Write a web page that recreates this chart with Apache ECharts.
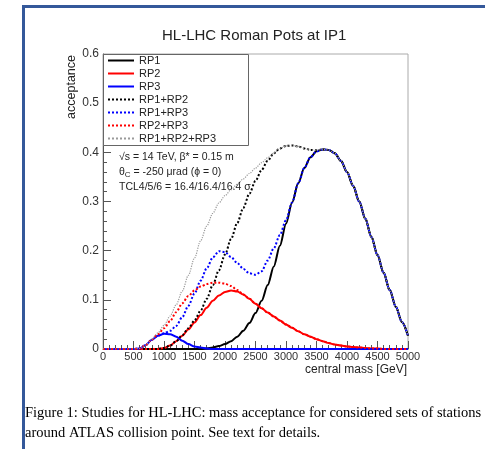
<!DOCTYPE html>
<html>
<head>
<meta charset="utf-8">
<script src="https://cdn.jsdelivr.net/npm/echarts@6/dist/echarts.min.js"></script>
<style>html,body{margin:0;padding:0;background:#fff;}#c{width:485px;height:449px;}</style>
</head>
<body>
<div id="c"></div>
<script>
// central mass [GeV]
var mass = [0,100,200,300,400,500,600,700,800,900,1000,1100,1200,1300,1400,1500,1600,1700,1800,1900,2000,2100,2200,2300,2400,2500,2600,2700,2800,2900,3000,3100,3200,3300,3400,3500,3600,3700,3800,3900,4000,4100,4200,4300,4400,4500,4600,4700,4800,4900,5000];

var rp1 = [0,0,0,0,0,0,0,0,0,0,0,0,0,0,0,0,0,0.001,0.003,0.006,0.01,0.016,0.025,0.037,0.053,0.073,0.098,0.13,0.168,0.21,0.255,0.298,0.337,0.368,0.39,0.402,0.406,0.405,0.398,0.383,0.36,0.332,0.3,0.265,0.228,0.191,0.155,0.12,0.086,0.055,0.027];
var rp2 = [0,0,0,0,0,0,0,0,0,0,0.002,0.007,0.016,0.027,0.04,0.054,0.069,0.084,0.098,0.109,0.116,0.119,0.117,0.111,0.102,0.092,0.083,0.074,0.066,0.058,0.05,0.043,0.036,0.03,0.025,0.02,0.016,0.012,0.009,0.007,0.005,0.004,0.003,0.002,0.001,0.001,0,0,0,0,0];
var rp3 = [0,0,0,0,0,0,0.001,0.008,0.019,0.027,0.031,0.03,0.025,0.017,0.01,0.005,0.003,0.001,0,0,0,0,0,0,0,0,0,0,0,0,0,0,0,0,0,0,0,0,0,0,0,0,0,0,0,0,0,0,0,0,0];
var rp12 = [0,0,0,0,0,0,0,0,0,0,0.002,0.007,0.016,0.028,0.042,0.058,0.078,0.102,0.13,0.16,0.192,0.224,0.256,0.287,0.316,0.342,0.364,0.383,0.398,0.408,0.413,0.414,0.412,0.408,0.405,0.404,0.406,0.405,0.398,0.383,0.36,0.332,0.3,0.265,0.228,0.191,0.155,0.12,0.086,0.055,0.027];
var rp13 = [0,0,0,0,0,0,0.001,0.008,0.019,0.027,0.032,0.037,0.047,0.065,0.088,0.113,0.139,0.164,0.186,0.199,0.197,0.187,0.175,0.163,0.154,0.151,0.158,0.18,0.205,0.232,0.262,0.298,0.337,0.368,0.39,0.402,0.406,0.405,0.398,0.383,0.36,0.332,0.3,0.265,0.228,0.191,0.155,0.12,0.086,0.055,0.027];
var rp23 = [0,0,0,0,0,0,0.001,0.008,0.019,0.03,0.042,0.057,0.075,0.093,0.108,0.119,0.127,0.132,0.135,0.135,0.133,0.128,0.12,0.111,0.102,0.092,0.083,0.074,0.066,0.058,0.05,0.043,0.036,0.03,0.025,0.02,0.016,0.012,0.009,0.007,0.005,0.004,0.003,0.002,0.001,0.001,0,0,0,0,0];
var rp123 = [0,0,0,0,0,0,0.001,0.008,0.02,0.033,0.048,0.067,0.09,0.118,0.15,0.185,0.22,0.25,0.276,0.297,0.312,0.324,0.335,0.346,0.357,0.368,0.379,0.389,0.399,0.408,0.413,0.414,0.412,0.408,0.405,0.404,0.406,0.405,0.398,0.383,0.36,0.332,0.3,0.265,0.228,0.191,0.155,0.12,0.086,0.055,0.027];

var seriesNames = ['RP1','RP2','RP3','RP1+RP2','RP1+RP3','RP2+RP3','RP1+RP2+RP3'];
var seriesValues = [rp1, rp2, rp3, rp12, rp13, rp23, rp123];
var seriesColors = ['#000000','#ff0000','#0000ff','#000000','#0000ff','#ff0000','#9a9a9a'];
var seriesTypes = ['solid','solid','solid','dotted','dotted','dotted','dotted'];
var seriesWidths = [2,2,2,2,2,2,1.2];

var xTicks = {min:0, max:5000, interval:500};
var yTicks = {min:0, max:0.6, interval:0.1};

function zip(vals){ return mass.map(function(m,i){ return [m, vals[i]]; }); }

var series = seriesNames.map(function(n,i){
  return {
    name:n, type:'line', data: zip(seriesValues[i]),
    showSymbol:false, symbol:'none', smooth:0.3, smoothMonotone:'x',
    lineStyle:{color:seriesColors[i], width:seriesWidths[i], type:seriesTypes[i]},
    itemStyle:{color:seriesColors[i]},
    z: 3 + i
  };
});

var chart = echarts.init(document.getElementById('c'), null, {renderer:'canvas'});
var F = 'Liberation Sans, Arial, Helvetica, sans-serif';
chart.setOption({
  animation:false,
  backgroundColor:'#ffffff',
  title:{text:'HL-LHC Roman Pots at IP1', left:157, top:23,
    textStyle:{fontFamily:F, fontSize:15, fontWeight:'normal', color:'#222'}},
  grid:{left:103, top:54, right:77, bottom:100, show:true, borderColor:'#aaaaaa', borderWidth:1, backgroundColor:'transparent'},
  xAxis:{type:'value', min:xTicks.min, max:xTicks.max, interval:xTicks.interval,
    axisLine:{show:true, onZero:false, lineStyle:{color:'#555', width:1}},
    axisTick:{show:true, inside:true, length:8, lineStyle:{color:'#555'}},
    minorTick:{show:true, splitNumber:5, length:4, lineStyle:{color:'#555'}},
    splitLine:{show:false},
    axisLabel:{margin:2, fontFamily:F, fontSize:11, color:'#333', hideOverlap:false,
      formatter:function(v){ return String(Math.round(v)); }}},
  yAxis:{type:'value', min:yTicks.min, max:yTicks.max, interval:yTicks.interval,
    axisLine:{show:true, onZero:false, lineStyle:{color:'#555', width:1}},
    axisTick:{show:true, inside:true, length:8, lineStyle:{color:'#555'}},
    minorTick:{show:true, splitNumber:5, length:4, lineStyle:{color:'#555'}},
    splitLine:{show:false},
    axisLabel:{margin:4, fontFamily:F, fontSize:12, color:'#333',
      formatter:function(v){ return v===0 ? '0' : v.toFixed(1); }}},
  legend:{orient:'vertical', left:107, top:55, padding:0, itemWidth:26, itemHeight:10, itemGap:2,
    data:seriesNames, selectedMode:false, itemStyle:{opacity:0},
    textStyle:{fontFamily:F, fontSize:11, color:'#222'}},
  graphic:[
    {type:'rect', z:1, shape:{x:103.5, y:54.5, width:145, height:91}, style:{fill:'#fff', stroke:'#666', lineWidth:1}},
    {type:'line', shape:{x1:22, y1:6.5, x2:485, y2:6.5}, style:{stroke:'#34589a', lineWidth:3}},
    {type:'line', shape:{x1:23.5, y1:5, x2:23.5, y2:449}, style:{stroke:'#34589a', lineWidth:3}},
    {type:'text', x:119, y:157, style:{text:'√s = 14 TeV, β* = 0.15 m', font:'10.5px '+F, fill:'#222', textVerticalAlign:'middle'}},
    {type:'text', x:119, y:172, style:{rich:{a:{fontSize:10.5, fontFamily:F, fill:'#222'}, s:{fontSize:8, fontFamily:F, fill:'#222', verticalAlign:'bottom', padding:[6,0,0,0]}},
      text:'{a|θ}{s|C}{a| = -250 μrad (ϕ = 0)}', textVerticalAlign:'middle'}},
    {type:'text', x:119, y:187, style:{text:'TCL4/5/6 = 16.4/16.4/16.4 σ', font:'10.5px '+F, fill:'#222', textVerticalAlign:'middle'}},
    {type:'text', x:72, y:55, rotation:Math.PI/2, style:{text:'acceptance', font:'12.5px '+F, fill:'#222', textAlign:'right', textVerticalAlign:'middle'}},
    {type:'text', x:407, y:370, style:{text:'central mass [GeV]', font:'12px '+F, fill:'#222', textAlign:'right', textVerticalAlign:'middle'}},
    {type:'text', x:25, y:413, style:{text:'Figure 1: Studies for HL-LHC: mass acceptance for considered sets of stations', font:'14.5px Liberation Serif, Times New Roman, serif', fill:'#000', textVerticalAlign:'middle'}},
    {type:'text', x:25, y:433, style:{text:'around ATLAS collision point. See text for details.', font:'14.5px Liberation Serif, Times New Roman, serif', fill:'#000', textVerticalAlign:'middle'}}
  ],
  series:series
});
</script>
</body>
</html>
